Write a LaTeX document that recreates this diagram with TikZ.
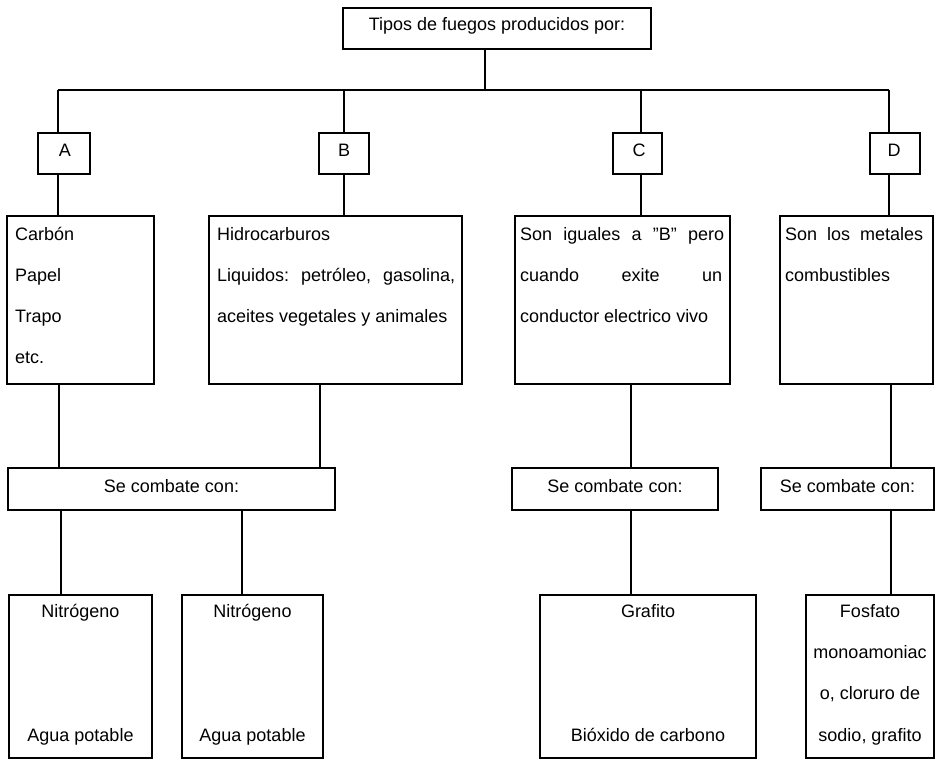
\documentclass[tikz,border=0pt]{standalone}
\usepackage{fontspec}
\setmainfont{Liberation Sans}
\newcommand\myfs{\fontsize{18}{22}\selectfont}
\begin{document}
\begin{tikzpicture}[x=1pt,y=-1pt,
  box/.style={draw, line width=1.3pt, inner sep=0pt, outer sep=0pt, anchor=north west},
  lt/.style={anchor=base west, inner sep=0pt, font=\myfs},
  ct/.style={anchor=base, inner sep=0pt, font=\myfs},
  conn/.style={line width=1.3pt}]
\useasboundingbox (0,0) rectangle (936,760);
% top
\node[box, minimum width=308pt, minimum height=41pt] (top) at (343,8) {};
\node[ct] (toptxt) at (497,31) {Tipos de fuegos producidos por:};
% bus coordinates
\coordinate (j0) at (485,90);
\coordinate (jA) at (58,90);
\coordinate (jB) at (344,90);
\coordinate (jC) at (641,90);
\coordinate (jD) at (889,90);
% letter boxes
\node[box, minimum width=52pt, minimum height=41pt] (A) at (38,133) {};
\node[box, minimum width=50pt, minimum height=41pt] (B) at (319,133) {};
\node[box, minimum width=49pt, minimum height=41pt] (C) at (613,133) {};
\node[box, minimum width=50pt, minimum height=41pt] (D) at (870,133) {};
\node[ct] (Atxt) at (65,156) {A};
\node[ct] (Btxt) at (344,156) {B};
\node[ct] (Ctxt) at (639,156) {C};
\node[ct] (Dtxt) at (894,156) {D};
% description boxes
\node[box, minimum width=147pt, minimum height=168pt] (t1) at (7,216) {};
\node[box, minimum width=253pt, minimum height=168pt] (t2) at (209,216) {};
\node[box, minimum width=215pt, minimum height=168pt] (t3) at (515,216) {};
\node[box, minimum width=153pt, minimum height=168pt] (t4) at (780,216) {};
\node[lt] (t1a) at (15,240) {Carbón};
\node[lt] (t1b) at (15,281) {Papel};
\node[lt] (t1c) at (15,322) {Trapo};
\node[lt] (t1d) at (15,363) {etc.};
\node[lt] (t2a) at (217,240) {Hidrocarburos};
\node[lt] (t2b) at (217,281) {\hbox to 238pt{Liquidos:\hfill petróleo,\hfill gasolina,}};
\node[lt] (t2c) at (217,322) {aceites vegetales y animales};
\node[lt] (t3a) at (520,240) {\hbox to 204pt{Son\hfill iguales\hfill a\hfill "B"\hfill pero}};
\node[lt] (t3b) at (520,281) {\hbox to 202pt{cuando\hfill exite\hfill un}};
\node[lt] (t3c) at (520,322) {conductor electrico vivo};
\node[lt] (t4a) at (785,240) {\hbox to 138pt{Son\hfill los\hfill metales}};
\node[lt] (t4b) at (785,281) {combustibles};
% se combate boxes
\node[box, minimum width=327pt, minimum height=42pt] (s1) at (8,468) {};
\node[box, minimum width=206pt, minimum height=42pt] (s2) at (512,468) {};
\node[box, minimum width=173pt, minimum height=42pt] (s3) at (761,468) {};
\node[ct] (s1t) at (171.5,492) {Se combate con:};
\node[ct] (s2t) at (615,492) {Se combate con:};
\node[ct] (s3t) at (847.5,492) {Se combate con:};
% bottom boxes
\node[box, minimum width=143pt, minimum height=163pt] (b1) at (9,595) {};
\node[box, minimum width=141pt, minimum height=163pt] (b2) at (182,595) {};
\node[box, minimum width=216pt, minimum height=163pt] (b3) at (540,595) {};
\node[box, minimum width=128pt, minimum height=163pt] (b4) at (806,595) {};
\node[ct] (b1a) at (80.5,617) {Nitrógeno};
\node[ct] (b1b) at (80.5,741) {Agua potable};
\node[ct] (b2a) at (252.5,617) {Nitrógeno};
\node[ct] (b2b) at (252.5,741) {Agua potable};
\node[ct] (b3a) at (648,617) {Grafito};
\node[ct] (b3b) at (648,741) {Bióxido de carbono};
\node[ct] (b4a) at (870,617) {Fosfato};
\node[ct] (b4b) at (870,658) {monoamoniac};
\node[ct] (b4c) at (870,699) {o, cloruro de};
\node[ct] (b4d) at (870,741) {sodio, grafito};
% x positions for lower connectors
\coordinate (x1) at (59,0);
\coordinate (x2) at (320,0);
\coordinate (x3) at (631,0);
\coordinate (x4) at (891,0);
\coordinate (y1) at (61,0);
\coordinate (y2) at (242,0);
% connectors
\draw[conn] (j0 |- top.south) -- (j0);
\draw[conn] (jA) -- (jD);
\draw[conn] (jA) -- (jA |- A.north);
\draw[conn] (jB) -- (jB |- B.north);
\draw[conn] (jC) -- (jC |- C.north);
\draw[conn] (jD) -- (jD |- D.north);
\draw[conn] (jA |- A.south) -- (jA |- t1.north);
\draw[conn] (jB |- B.south) -- (jB |- t2.north);
\draw[conn] (jC |- C.south) -- (jC |- t3.north);
\draw[conn] (jD |- D.south) -- (jD |- t4.north);
\draw[conn] (x1 |- t1.south) -- (x1 |- s1.north);
\draw[conn] (x2 |- t2.south) -- (x2 |- s1.north);
\draw[conn] (x3 |- t3.south) -- (x3 |- s2.north);
\draw[conn] (x4 |- t4.south) -- (x4 |- s3.north);
\draw[conn] (y1 |- s1.south) -- (y1 |- b1.north);
\draw[conn] (y2 |- s1.south) -- (y2 |- b2.north);
\draw[conn] (x3 |- s2.south) -- (x3 |- b3.north);
\draw[conn] (x4 |- s3.south) -- (x4 |- b4.north);
\end{tikzpicture}
\end{document}
